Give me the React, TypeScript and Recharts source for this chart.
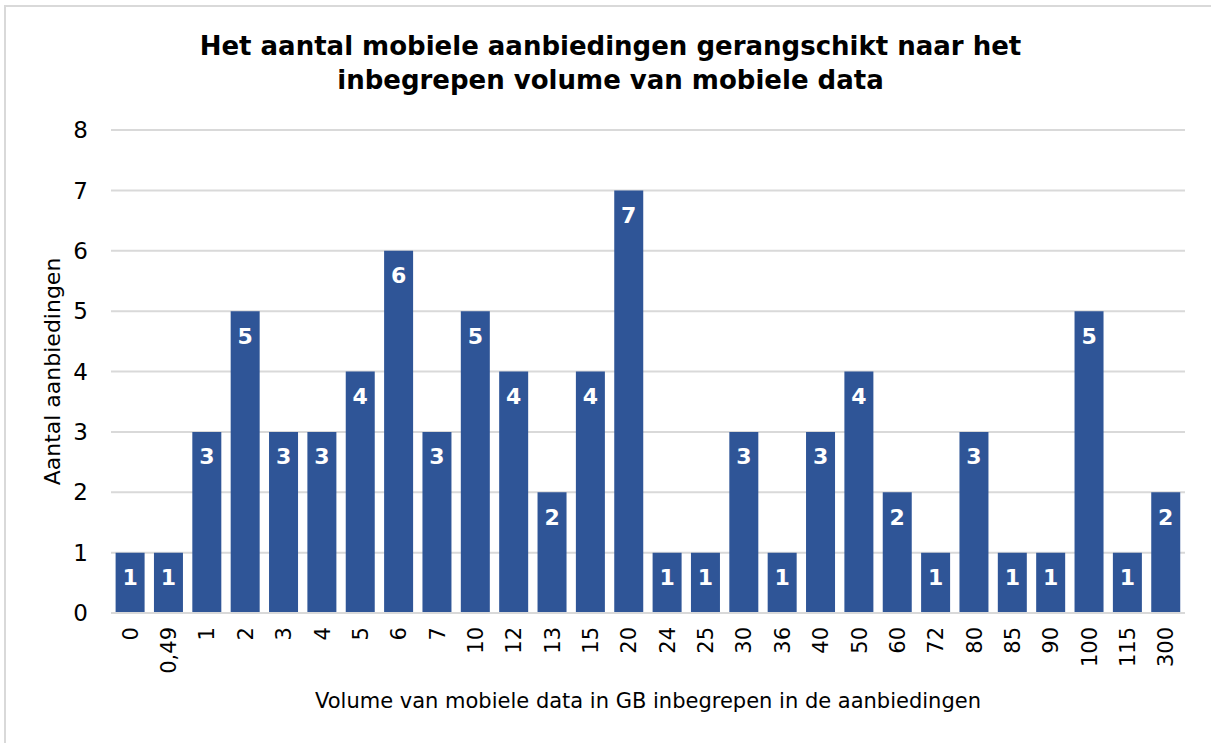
import React from 'react';
import { BarChart, Bar, XAxis, YAxis, CartesianGrid, LabelList, Label } from 'recharts';

const volumes = ['0', '0,49', '1', '2', '3', '4', '5', '6', '7', '10', '12', '13', '15', '20', '24', '25', '30', '36', '40', '50', '60', '72', '80', '85', '90', '100', '115', '300'];
const offerCounts = [1, 1, 3, 5, 3, 3, 4, 6, 3, 5, 4, 2, 4, 7, 1, 1, 3, 1, 3, 4, 2, 1, 3, 1, 1, 5, 1, 2];
const yTicks = [0, 1, 2, 3, 4, 5, 6, 7, 8];

const data = volumes.map((v, i) => ({ volume: v, count: offerCounts[i] }));

const FONT = '"DejaVu Sans", Verdana, sans-serif';

const RotatedTick = (props: any) => {
  const { x, y, payload } = props;
  return (
    <g transform={`translate(${x},${y})`}>
      <text transform="rotate(-90)" textAnchor="end" dy="0.36em" fontSize={21} fill="#000" fontFamily={FONT}>
        {payload.value}
      </text>
    </g>
  );
};

export default function App() {
  return (
    <div style={{ position: 'absolute', left: 0, top: 0, width: 1211, height: 743, background: '#fff', overflow: 'hidden', fontFamily: FONT }}>
      <div style={{ position: 'absolute', left: 4, top: 5, width: 1400, height: 900, border: '2px solid #d9d9d9' }} />
      <div style={{ position: 'absolute', left: 0, top: 29, width: 1221, textAlign: 'center', fontWeight: 'bold', fontSize: 26, lineHeight: '34px', color: '#000' }}>
        Het aantal mobiele aanbiedingen gerangschikt naar het
        <br />
        inbegrepen volume van mobiele data
      </div>
      <div style={{ position: 'absolute', left: 0, top: 0 }}>
        <BarChart width={1211} height={743} data={data} margin={{ top: 130, right: 26, left: 51, bottom: 30 }} barCategoryGap="12%">
          <CartesianGrid vertical={false} stroke="#d9d9d9" strokeWidth={2} />
          <YAxis
            width={60}
            domain={[0, 8]}
            ticks={yTicks}
            axisLine={false}
            tickLine={false}
            tickMargin={17}
            tick={{ fontSize: 23, fill: '#000', fontFamily: FONT }}
          >
            <Label
              value="Aantal aanbiedingen"
              angle={-90}
              position="insideLeft"
              offset={1}
              style={{ textAnchor: 'middle', fontSize: 22, fill: '#000', fontFamily: FONT }}
            />
          </YAxis>
          <XAxis
            dataKey="volume"
            height={100}
            interval={0}
            axisLine={{ stroke: '#d9d9d9', strokeWidth: 2 }}
            tickLine={false}
            tickSize={0}
            tickMargin={14}
            tick={<RotatedTick />}
          >
            <Label
              value="Volume van mobiele data in GB inbegrepen in de aanbiedingen"
              position="insideBottom"
              offset={5}
              style={{ fontSize: 21, fill: '#000', fontFamily: FONT }}
            />
          </XAxis>
          <Bar dataKey="count" fill="#2f5597" isAnimationActive={false}>
            <LabelList
              dataKey="count"
              position="insideTop"
              offset={17}
              style={{ fill: '#fff', fontWeight: 'bold', fontSize: 22, fontFamily: FONT }}
            />
          </Bar>
        </BarChart>
      </div>
    </div>
  );
}
